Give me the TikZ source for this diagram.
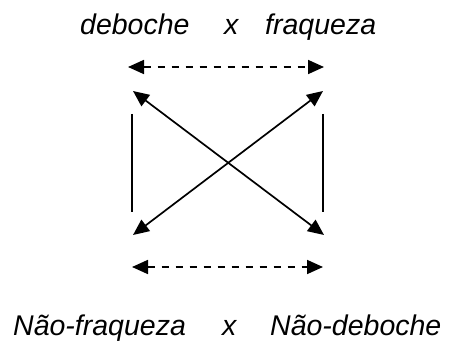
\documentclass[tikz,border=0pt]{standalone}
\usepackage{fontspec}
\setmainfont{Liberation Sans}
\usetikzlibrary{arrows.meta}
\begin{document}
\begin{tikzpicture}[x=1pt,y=1pt,
  lbl/.style={inner sep=0pt, anchor=base west, font=\fontsize{28.5}{32}\selectfont\itshape},
  conn/.style={line width=1.7pt, {Triangle[length=16pt,width=14pt]}-{Triangle[length=16pt,width=14pt]}},
  dashconn/.style={conn, dash pattern=on 7pt off 7pt},
  plain/.style={line width=1.7pt}]
\useasboundingbox (0,0) rectangle (449,340);
% labels
\node[lbl] (deb) at (80,305) {deboche};
\node[lbl] (x1) at (224,305) {x};
\node[lbl] (fra) at (265,305) {fraqueza};
\node[lbl] (nfra) at (13,5) {Não-fraqueza};
\node[lbl] (x2) at (222,5) {x};
\node[lbl] (ndeb) at (270,5) {Não-deboche};
% coordinates
\coordinate (tl) at (128,273);
\coordinate (tr) at (324,273);
\coordinate (bl) at (132,73);
\coordinate (br) at (323,73);
\coordinate (ul) at (133,249);
\coordinate (ur) at (323,249);
\coordinate (ll) at (133,105);
\coordinate (lr) at (324,105);
\coordinate (v1a) at (132,226);
\coordinate (v1b) at (132,128);
\coordinate (v2a) at (323,226);
\coordinate (v2b) at (323,128);
% connectors
\draw[dashconn] (tl) -- (tr);
\draw[dashconn] (bl) -- (br);
\draw[conn] (ul) -- (lr);
\draw[conn] (ur) -- (ll);
\draw[plain] (v1a) -- (v1b);
\draw[plain] (v2a) -- (v2b);
\end{tikzpicture}
\end{document}
